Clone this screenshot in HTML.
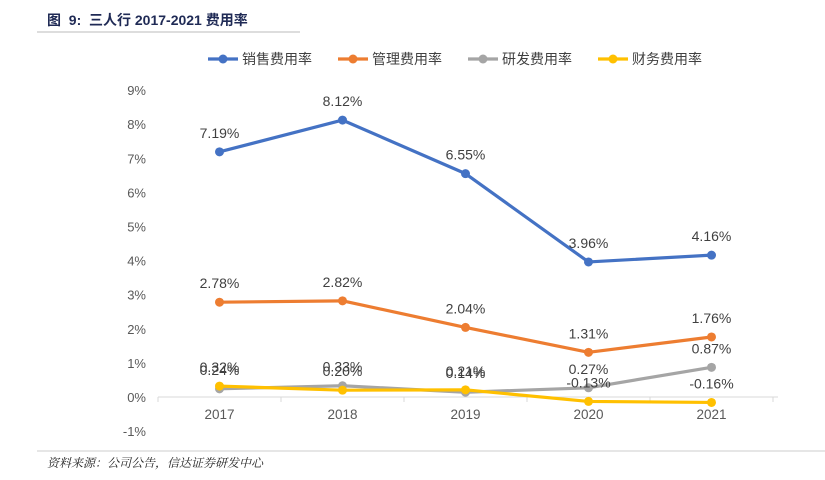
<!DOCTYPE html>
<html><head><meta charset="utf-8"><style>
body{margin:0;background:#fff;width:825px;height:475px;overflow:hidden;font-family:"Liberation Sans","Noto Sans CJK SC",sans-serif}
</style></head><body>
<svg id="c" width="825" height="475" xmlns="http://www.w3.org/2000/svg">
<text x="47" y="25" font-size="14" font-weight="bold" fill="#1f2a55" xml:space="preserve" font-family="'Liberation Sans','Noto Sans CJK SC',sans-serif">图  9:  三人行 2017-2021 费用率</text>
<line x1="37" y1="32" x2="300" y2="32" stroke="#bbb" stroke-width="1"/>
<line x1="37" y1="451" x2="825" y2="451" stroke="#ccc" stroke-width="1"/>
<text x="47" y="467" font-size="12" font-style="italic" fill="#222" font-family="'Liberation Serif','Noto Serif CJK SC',serif">资料来源：公司公告，信达证券研发中心</text>
</svg>
<script>
const categories=["2017","2018","2019","2020","2021"];
const seriesNames=["销售费用率","管理费用率","研发费用率","财务费用率"];
const sales=[7.19,8.12,6.55,3.96,4.16];
const admin=[2.78,2.82,2.04,1.31,1.76];
const rnd=[0.24,0.33,0.14,0.27,0.87];
const fin=[0.32,0.20,0.21,-0.13,-0.16];
const yTicks=[-1,0,1,2,3,4,5,6,7,8,9];
const colors=["#4472c4","#ed7d31","#a5a5a5","#ffc000"];
const svg=document.getElementById('c');
const NS="http://www.w3.org/2000/svg";
const x0=158,x1=773,yZero=397,pxPer=34.1;
const step=(x1-x0)/categories.length;
const xs=i=>x0+step*(i+0.5);
const ys=v=>yZero-v*pxPer;
function mk(t,a){const e=document.createElementNS(NS,t);for(const k in a)e.setAttribute(k,a[k]);svg.appendChild(e);return e;}
yTicks.forEach(v=>{const t=mk('text',{x:146,y:ys(v)+5,'text-anchor':'end','font-size':13,fill:'#595959'});t.textContent=v+'%';

});
const ax=mk('line',{x1:x0,y1:yZero,x2:x1+5,y2:yZero,stroke:'#d9d9d9','stroke-width':1});


for(let i=0;i<=categories.length;i++){const tk=mk('line',{x1:x0+step*i,y1:yZero,x2:x0+step*i,y2:yZero+5,stroke:'#d9d9d9'});

}
categories.forEach((c,i)=>{const t=mk('text',{x:xs(i),y:yZero+22,'text-anchor':'middle','font-size':13.5,fill:'#595959'});t.textContent=c;

});
const all=[sales,admin,rnd,fin];
const order=[2,3,1,0];
order.forEach(s=>{const d=all[s];
const pl=mk('polyline',{points:d.map((v,i)=>xs(i)+','+ys(v)).join(' '),fill:'none',stroke:colors[s],'stroke-width':3.2,'stroke-linejoin':'round'});


d.forEach((v,i)=>{const p=mk('circle',{cx:xs(i),cy:ys(v),r:4.5,fill:colors[s]});

});});
[0,1,2,3].forEach(s=>{all[s].forEach((v,i)=>{const t=mk('text',{x:xs(i),y:ys(v)-14,'text-anchor':'middle','font-size':14,fill:'#404040'});t.textContent=v.toFixed(2)+'%';

});});
const lx=[208,338,468,598];
seriesNames.forEach((n,s)=>{const g=lx[s];
const l=mk('line',{x1:g,y1:59,x2:g+30,y2:59,stroke:colors[s],'stroke-width':3.2});


mk('circle',{cx:g+15,cy:59,r:4.5,fill:colors[s]});
const t=mk('text',{x:g+34,y:64,'font-size':14,fill:'#404040','font-family':"'Liberation Sans','Noto Sans CJK SC',sans-serif"});t.textContent=n;

});
</script>
</body></html>
